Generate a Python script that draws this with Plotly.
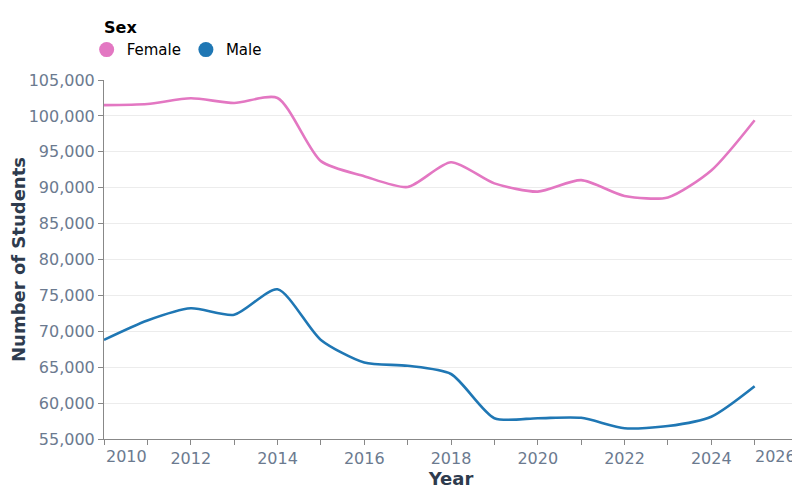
import plotly.graph_objects as go

# student counts by sex
years = list(range(2010, 2026))
female = [101500, 101650, 102450, 101800, 102500, 93700, 91600, 90100,
          93550, 90600, 89450, 91050, 88850, 88650, 92400, 99400]
male = [68800, 71500, 73200, 72300, 75850, 68800, 65650, 65200,
        64050, 57900, 57900, 57950, 56500, 56800, 58100, 62350]

series_names = ['Female', 'Male']
series_colors = ['#e377c2', '#1f77b4']

x_ticks = list(range(2010, 2027))
x_labels = [str(y) if y % 2 == 0 and y not in (2010, 2026) else '' for y in x_ticks]

tick_color = '#6b7a8f'
title_color = '#2e3b4e'

fig = go.Figure()
for name, vals, col in zip(series_names, [female, male], series_colors):
    fig.add_trace(go.Scatter(x=years, y=vals, mode='lines', name=name,
                             line=dict(color=col, width=2.6, shape='spline', smoothing=0.7),
                             showlegend=False))
    # legend-only entry so the key shows a filled circle
    fig.add_trace(go.Scatter(x=[None], y=[None], mode='markers', name=name,
                             marker=dict(color=col, size=15, symbol='circle')))

# flush labels at both ends of the x axis, like the original
for yr, anchor in [(2010, 'left'), (2026, 'right')]:
    fig.add_annotation(x=yr, y=0, xref='x', yref='paper', text=str(yr),
                       showarrow=False, xanchor=anchor, yanchor='top', yshift=-6,
                       font=dict(family='DejaVu Sans', size=16, color=tick_color))

# legend heading
fig.add_annotation(x=0, y=1.145, xref='paper', yref='paper', text='<b>Sex</b>',
                   showarrow=False, xanchor='left', yanchor='middle', xshift=-2,
                   font=dict(family='DejaVu Sans', size=16, color='black'))

# the page body has an 8px margin, so the figure is 8px smaller each way
fig.update_layout(
    width=792, height=492,
    margin=dict(l=96, r=2, t=72, b=61),
    plot_bgcolor='white', paper_bgcolor='white',
    font=dict(family='DejaVu Sans', color=tick_color),
    legend=dict(orientation='h', x=-0.025, xanchor='left', y=1.084, yanchor='middle',
                font=dict(size=15, color='black'), itemsizing='trace',
                itemwidth=30, tracegroupgap=0),
    xaxis=dict(range=[2010, 2026], tickvals=x_ticks, ticktext=x_labels,
               showgrid=False, zeroline=False, showline=True, linecolor='#888888',
               ticks='outside', ticklen=5, tickcolor='#888888',
               tickfont=dict(size=16, color=tick_color),
               title=dict(text='<b>Year</b>', font=dict(size=18, color=title_color), standoff=0)),
    yaxis=dict(range=[55000, 105000], dtick=5000, tickformat=',',
               showgrid=True, gridcolor='#ececec', zeroline=False,
               showline=True, linecolor='#888888',
               ticks='outside', ticklen=5, tickcolor='#888888',
               tickfont=dict(size=16, color=tick_color),
               title=dict(text='<b>Number of Students</b>', font=dict(size=18, color=title_color), standoff=2)),
)

fig.write_html('out.html')
